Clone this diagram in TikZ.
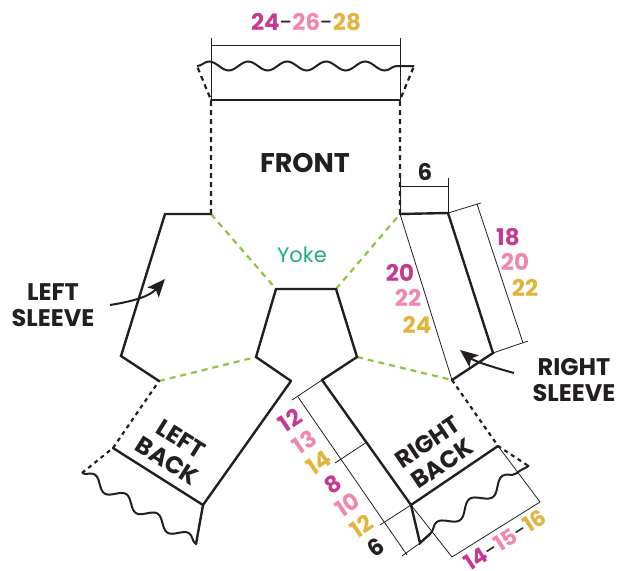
\documentclass[tikz,border=0pt]{standalone}
\usepackage{fontspec}
\setmainfont{Poppins}
\usetikzlibrary{decorations.pathmorphing,arrows.meta}

\definecolor{ink}{HTML}{231F20}
\definecolor{sizeS}{HTML}{C43A92}
\definecolor{sizeM}{HTML}{F386AC}
\definecolor{sizeL}{HTML}{E2B43C}
\definecolor{seamgreen}{HTML}{8CC63F}
\definecolor{yokegreen}{HTML}{1BAF74}

\begin{document}
\begin{tikzpicture}
[
  x=1pt, y=-1pt,
  >={Stealth[length=18pt, width=15pt, inset=4pt]},
  outline/.style = {draw=ink, line width=2.4pt, line cap=round},
  fold/.style = {draw=ink, line width=2.2pt, dash pattern=on 5pt off 4pt},
  seam/.style = {draw=seamgreen, line width=2.2pt, dash pattern=on 6pt off 5pt},
  dimline/.style = {draw=ink, line width=0.8pt},
  rib/.style = {draw=ink, line width=2pt, decorate,
    decoration={snake, segment length=#1pt, amplitude=4.5pt}},
  rib/.default = 39,
  label/.style = {text=ink, font=\bfseries\fontsize{24}{26}\selectfont, align=center, inner sep=0pt},
  num/.style = {font=\bfseries\fontsize{23}{24}\selectfont, inner sep=0pt},
]
\useasboundingbox (0,0) rectangle (618,570);

% corners of the pieces
\coordinate (W1) at (197,66);
\coordinate (W2) at (414,66);
\coordinate (F1) at (211,100);
\coordinate (F2) at (400,100);
\coordinate (FL) at (211,214);
\coordinate (FR) at (400,214);
\coordinate (LS1) at (165,214);
\coordinate (LS2) at (121,356);
\coordinate (LS3) at (159,381);
\coordinate (Y1) at (276,289);
\coordinate (Y2) at (336,289);
\coordinate (Y3) at (357,357);
\coordinate (Y4) at (256,357);
\coordinate (LB1) at (291,381);
\coordinate (LB2) at (203,505);
\coordinate (LB3) at (196,544);
\coordinate (LB4) at (82,473);
\coordinate (LB5) at (113,448);
\coordinate (RS1) at (448,213);
\coordinate (RS2) at (493,353);
\coordinate (RS3) at (452,380);
\coordinate (RB1) at (322,380);
\coordinate (RB2) at (411,505);
\coordinate (RB3) at (498,446);
\coordinate (RB4) at (527,465);
\coordinate (RB5) at (420,543);
\coordinate (RB6) at (430,534);

% front and neck ribbing
\draw[fold] (FL) -- (F1) -- (W1);
\draw[fold] (FR) -- (F2) -- (W2);
\draw[outline] (F1) -- (F2);
\draw[rib] (W1) -- (W2);

% yoke seams
\draw[seam] (FL) -- (Y1);
\draw[seam] (Y2) -- (FR);
\draw[seam] (LS3) -- (Y4);
\draw[seam] (Y3) -- (RS3);

% left sleeve, yoke, backs
\draw[outline] (FL) -- (LS1) -- (LS2) -- (LS3);
\draw[outline] (LB1) -- (Y4) -- (Y1) -- (Y2) -- (Y3) -- (RB1);
\draw[outline] (LB1) -- (LB2) -- (LB3);
\draw[outline] (LB5) -- (LB2);
\draw[rib=37, decoration={amplitude=5.5pt}] (LB4) -- (LB3);
\draw[fold, dash pattern=on 4pt off 4pt] (LB4) -- (LB5) -- (LS3);

% right sleeve
\draw[outline] (FR) -- (RS1) -- (RS2) -- (RS3);
\draw[dimline] (FR) -- (RS3);
\draw[fold, dash pattern=on 4pt off 4pt] (RS3) -- (RB3) -- (RB4);

% right back
\draw[outline] (RB1) -- (RB2) -- (RB3);
\draw[outline] (RB2) -- (RB5) -- (RB6);
\draw[rib=40, decoration={amplitude=6pt}] (RB6) -- (521,470);
\draw[ink, line width=2pt] (521,470) .. controls (527,467) and (530,466) .. (RB4);

% dimensions
\draw[dimline] (211,38) -- (F1);
\draw[dimline] (400,38) -- (F2);
\draw[dimline] (211,45) -- (400,45);
\draw[dimline] (400,178) -- (FR);
\draw[dimline] (448,178) -- (RS1);
\draw[dimline] (400,186) -- (448,186);
\draw[dimline] (RS1) -- (481,203);
\draw[dimline] (RS2) -- (528,341);
\draw[dimline] (477,204) -- (523,343);
\draw[dimline] (RB1) -- (292,400);
\draw[dimline] (298,397) -- (407,555);
\draw[dimline] (367,442) -- (335,463);
\draw[dimline] (RB2) -- (380,525);
\draw[dimline] (RB5) -- (402,556);
\draw[dimline] (RB2) -- (452,557);
\draw[dimline] (RB3) -- (540,502);
\draw[dimline] (452,557) -- (540,502);

% pointers
\draw[->, ink, line width=2pt] (110,305) .. controls (135,301) and (150,296) .. (165,279);
\draw[->, ink, line width=2pt] (514,373) .. controls (492,367) and (474,361) .. (460,350);

% piece names
\node[label, font=\bfseries\fontsize{27}{28}\selectfont] (front) at (305,163) {FRONT};
\node[text=yokegreen, font=\fontsize{21}{22}\selectfont, inner sep=0pt] (yoke) at (302,255) {Yoke};
\node[label] (lsleeve) at (53,305) {LEFT\\SLEEVE};
\node[label] (rsleeve) at (574,380) {RIGHT\\SLEEVE};
\node[label, rotate=-32] (lback) at (174,450) {LEFT\\BACK};
\node[label, rotate=34] (rback) at (435,453) {RIGHT\\BACK};

% measurements
\node[num] (neck) at (306,22) {\textcolor{sizeS}{24}\textcolor{ink}{\mdseries-}\textcolor{sizeM}{26}\textcolor{ink}{\mdseries-}\textcolor{sizeL}{28}};
\node[num, text=ink] (cuff) at (425,172) {6};
\node[num, text=sizeS] (su1) at (508,237) {18};
\node[num, text=sizeM] (su2) at (515,262) {20};
\node[num, text=sizeL] (su3) at (525,288) {22};
\node[num, text=sizeS] (sl1) at (400,273) {20};
\node[num, text=sizeM] (sl2) at (408,298) {22};
\node[num, text=sizeL] (sl3) at (417,325) {24};
\node[num, rotate=34, align=center, font=\bfseries\fontsize{23}{25.5}\selectfont] (backlen) at (333,484)
  {\textcolor{sizeS}{12}\\\textcolor{sizeM}{13}\\\textcolor{sizeL}{14}\\\textcolor{sizeS}{8}\\\textcolor{sizeM}{10}\\\textcolor{sizeL}{12}\\\textcolor{ink}{6}};
\node[num, rotate=33, font=\bfseries\fontsize{22}{24}\selectfont] (hem) at (505,540) {\textcolor{sizeS}{14}\textcolor{ink}{\mdseries-}\textcolor{sizeM}{15}\textcolor{ink}{\mdseries-}\textcolor{sizeL}{16}};

\end{tikzpicture}
\end{document}
